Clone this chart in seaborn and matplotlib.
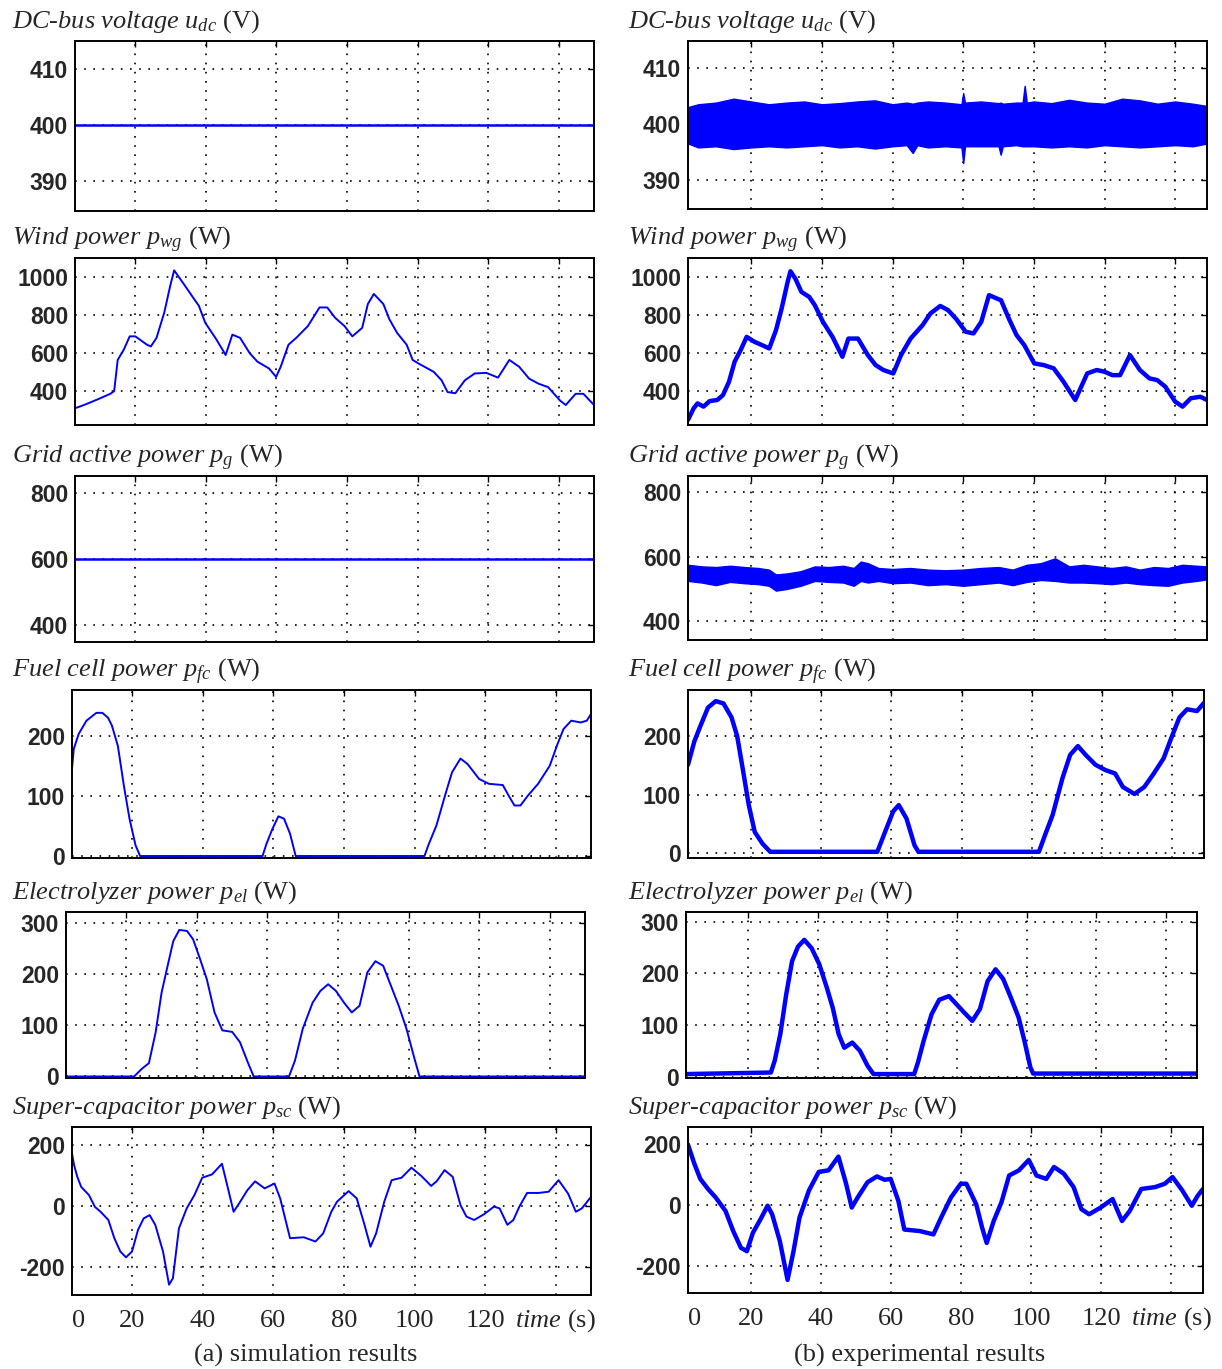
import matplotlib
matplotlib.use("Agg")
import matplotlib.pyplot as plt
import seaborn as sns

# ---------------- data ----------------
# (a) simulation
t_udc_sim = [2.9, 150.0]
udc_sim = [400, 400]

t_pwg_sim = [2.9, 5.7, 9.6, 12.9, 14.0, 15.0, 16.7, 18.4, 20.0, 23.3, 24.4, 26.0, 28.2, 29.9, 31.0,
             33.7, 37.0, 38.0, 39.8, 43.0, 45.6, 47.5, 49.7, 52.4, 54.6, 57.9, 59.9, 61.2, 63.4,
             65.6, 68.9, 72.2, 74.4, 76.6, 79.3, 81.5, 84.3, 85.9, 87.6, 90.3, 92.0, 94.2, 96.9,
             98.6, 100.2, 104.6, 106.8, 108.5, 110.7, 113.4, 116.2, 119.5, 122.8, 126.0, 128.8,
             131.6, 134.3, 137.0, 140.4, 142.0, 144.8, 147.0, 150.0]
pwg_sim = [310, 329, 359, 386, 400, 564, 617, 688, 688, 644, 635, 680, 813, 955, 1035,
           964, 875, 849, 760, 671, 590, 697, 680, 600, 555, 519, 475, 528, 644,
           680, 742, 840, 840, 786, 742, 688, 733, 858, 911, 858, 778, 706, 644,
           564, 546, 501, 457, 395, 389, 457, 493, 496, 471, 564, 528,
           466, 439, 421, 350, 327, 386, 386, 327]

t_pg_sim = [2.9, 150.0]
pg_sim = [600, 600]

t_pfc_sim = [2.9, 3.4, 4.8, 7.0, 9.8, 11.5, 13.1, 14.2, 15.9, 17.6, 19.2, 20.9, 22.2, 56.9, 58.0,
             59.7, 61.4, 63.0, 64.7, 66.3, 102.8, 103.9, 106.2, 108.9, 110.6, 113.0, 115.0, 118.3,
             121.1, 125.0, 126.6, 128.3, 130.0, 132.2, 135.0, 138.3, 140.5, 142.2, 144.4, 147.1,
             148.8, 150.0]
pfc_sim = [145, 178, 203, 225, 238, 238, 230, 217, 183, 117, 62, 18, 0, 0, 20,
           45, 66, 62, 37, 0, 0, 18, 51, 106, 139, 162, 153, 128,
           120, 118, 101, 84, 84, 101, 120, 150, 186, 211, 225, 222,
           225, 236]

t_pel_sim = [2.9, 22.2, 24.4, 26.4, 28.3, 30.0, 31.7, 33.3, 35.0, 37.2, 38.9, 40.6, 42.8, 45.0, 47.2,
             50.0, 52.2, 54.4, 56.1, 66.1, 67.8, 70.0, 72.8, 75.0, 77.2, 79.4, 81.7, 83.9, 86.1,
             88.3, 90.6, 92.8, 95.0, 97.2, 99.4, 101.7, 103.1, 150.0]
pel_sim = [0, 0, 15, 26, 86, 164, 216, 264, 286, 284, 268, 235, 190, 125, 90,
           87, 67, 28, 0, 0, 31, 93, 144, 167, 180, 167, 144, 125, 138,
           203, 225, 216, 177, 138, 93, 34, 0, 0]

t_psc_sim = [2.9, 3.5, 4.4, 5.5, 7.7, 9.4, 11.0, 13.2, 14.9, 16.6, 18.2, 19.9, 21.6, 23.2, 24.9,
             26.5, 28.7, 30.4, 31.5, 33.2, 35.4, 37.6, 39.8, 42.6, 45.4, 47.0, 48.7, 50.3, 52.6,
             54.8, 57.5, 60.3, 61.9, 64.7, 68.6, 71.9, 74.1, 76.4, 78.0, 81.3, 83.6, 85.8, 87.5,
             89.1, 91.4, 93.5, 96.3, 99.1, 101.9, 104.7, 106.3, 108.5, 110.8, 113.0, 114.7, 116.9,
             119.7, 122.5, 124.1, 126.3, 128.0, 129.7, 131.9, 135.2, 138.0, 140.8, 143.5, 145.7,
             147.4, 150.0]
psc_sim = [173, 134, 96, 63, 36, -3, -19, -46, -106, -150, -169, -150, -79, -41, -30,
           -62, -150, -259, -238, -74, -8, 36, 93, 104, 139, 63, -19, 9, 52,
           81, 58, 74, 25, -106, -103, -117, -90, -19, 14, 49, 25, -62, -134,
           -90, 14, 85, 93, 126, 99, 66, 82, 118, 96, 3, -35, -46,
           -27, -2, -8, -62, -46, -2, 43, 43, 47, 85, 41, -19,
           -8, 30]

# (b) experimental
t_udc_exp = [2.1, 5, 10, 15, 20, 25, 30, 35, 40, 45, 50, 55, 60, 64, 65.7, 67, 70, 75, 79.5, 80,
             80.5, 85, 90, 90.6, 91.2, 95, 96.8, 97.4, 98, 100, 105, 110, 115, 120, 125, 130, 135,
             140, 145, 149]
udc_exp_hi = [403.0, 403.5, 403.8, 404.5, 404.0, 403.5, 403.8, 404.0, 403.5, 403.7, 404.0, 404.2,
              403.5, 403.8, 403.6, 403.8, 404.0, 403.8, 403.5, 405.5, 403.8, 404.0, 403.7, 403.8,
              403.6, 403.8, 403.8, 406.8, 403.8, 404.0, 403.7, 404.3, 403.8, 403.6, 404.5, 404.2,
              403.6, 404.0, 403.6, 403.2]
udc_exp_lo = [396.5, 395.8, 396.0, 395.5, 395.8, 396.0, 395.8, 396.0, 396.2, 395.8, 396.0, 395.6,
              396.0, 396.2, 394.8, 396.2, 395.8, 396.0, 395.8, 393.0, 396.0, 396.0, 396.0, 394.5,
              396.0, 396.2, 396.0, 396.0, 396.0, 396.0, 395.8, 396.0, 395.8, 396.2, 396.0, 395.8,
              396.0, 396.2, 396.0, 396.5]

t_pwg_exp = [2.1, 3.7, 4.8, 6.5, 8.2, 10.4, 12.0, 13.7, 15.3, 17.0, 18.7, 20.9, 23.1, 25.1, 27.0,
             28.6, 30.3, 31.1, 32.5, 34.2, 36.4, 38.0, 40.3, 43.0, 45.8, 47.5, 50.2, 53.0, 55.2,
             57.4, 60.2, 62.4, 65.1, 68.5, 70.7, 73.5, 75.7, 77.9, 80.7, 82.9, 85.1, 87.3, 90.7,
             92.9, 95.1, 97.3, 100.1, 102.8, 105.6, 108.4, 111.7, 115.1, 117.8, 120.0, 122.2,
             124.4, 127.2, 130.0, 132.7, 134.9, 137.2, 140.0, 142.1, 144.4, 147.1, 149.0]
pwg_exp = [246, 307, 333, 316, 345, 351, 377, 447, 553, 614, 684, 658, 640, 623, 719,
           833, 974, 1030, 991, 921, 895, 851, 763, 684, 579, 675, 675, 588, 535,
           509, 491, 588, 675, 746, 807, 847, 825, 781, 711, 702, 763, 904, 877,
           781, 693, 640, 544, 535, 518, 447, 351, 491, 509, 500, 482,
           482, 588, 509, 465, 456, 421, 342, 316, 360, 368, 351]

t_pg_exp = [2.1, 6, 10, 14, 18, 22, 25, 27, 30, 34, 38, 42, 46, 49, 51, 53, 56, 60, 65, 70, 75,
            80, 85, 90, 94, 98, 102, 106, 110, 114, 118, 122, 126, 130, 134, 138, 142, 146, 149]
pg_exp_hi = [575, 570, 568, 572, 568, 565, 560, 545, 548, 555, 570, 568, 572, 565, 585, 580, 565,
             562, 565, 560, 558, 560, 565, 568, 560, 575, 580, 595, 570, 575, 570, 565, 570, 560,
             568, 565, 575, 572, 570]
pg_exp_lo = [525, 520, 512, 522, 518, 515, 510, 495, 500, 510, 525, 522, 520, 510, 525, 520, 525,
             518, 520, 512, 515, 510, 515, 520, 512, 522, 528, 525, 520, 520, 518, 515, 520, 515,
             512, 510, 520, 525, 530]

t_pfc_exp = [2.1, 3.9, 5.6, 7.8, 10.0, 12.2, 14.5, 16.1, 17.8, 19.4, 21.1, 23.3, 25.5, 56.0, 58.2,
             60.5, 62.1, 64.3, 66.6, 67.7, 102.0, 103.7, 105.9, 108.7, 110.9, 113.1, 115.3, 118.1,
             120.9, 123.7, 125.9, 129.2, 132.0, 134.7, 137.5, 139.7, 142.0, 144.2, 147.0, 149.0]
pfc_exp = [151, 191, 217, 249, 260, 256, 232, 200, 140, 82, 36, 16, 2, 2, 36,
           71, 82, 59, 13, 2, 2, 30, 65, 128, 168, 183, 168, 151,
           142, 136, 113, 101, 113, 136, 162, 197, 232, 246, 243, 257]

t_pel_exp = [2.1, 26.5, 27.6, 29.2, 30.9, 32.6, 34.3, 36.1, 38.2, 40.4, 42.6, 44.3, 46.0, 47.6, 49.9,
             52.1, 54.3, 56.0, 67.7, 68.8, 70.4, 72.7, 74.9, 77.7, 79.9, 82.1, 84.4, 86.6, 88.8,
             91.1, 93.3, 95.5, 97.7, 99.4, 101.1, 101.9, 149.0]
pel_exp = [5, 8, 31, 82, 159, 224, 252, 265, 249, 218, 172, 133, 82, 56, 66,
           50, 21, 5, 5, 28, 69, 121, 149, 156, 140, 124, 108, 131, 185,
           208, 189, 153, 115, 69, 18, 6, 6]

t_psc_exp = [2.1, 3.9, 5.6, 7.8, 10.0, 12.8, 15.0, 17.2, 18.9, 20.6, 22.8, 24.8, 26.1, 28.3, 30.5,
             32.2, 33.9, 36.6, 39.4, 42.2, 45.0, 47.2, 48.8, 50.5, 53.3, 56.0, 58.2, 59.9, 62.1,
             63.8, 68.2, 72.1, 74.3, 77.1, 79.9, 81.5, 84.3, 86.0, 87.3, 89.3, 91.5, 93.7, 96.5,
             99.3, 101.5, 104.3, 106.5, 109.3, 112.1, 114.3, 116.5, 119.8, 123.2, 125.9, 128.1,
             131.4, 135.3, 138.1, 140.3, 143.1, 145.8, 147.5, 149.0]
psc_exp = [198, 136, 86, 53, 25, -19, -85, -140, -151, -91, -46, -2, -30, -118, -245,
           -151, -41, 48, 109, 114, 159, 70, -8, 25, 75, 94, 83, 86, 14,
           -80, -85, -96, -41, 25, 70, 70, 3, -74, -124, -52, 9, 97, 114,
           148, 97, 86, 125, 103, 59, -13, -30, -8, 20, -52, -19,
           53, 59, 70, 92, 48, -2, 31, 53]

titles = [
    r"$DC$-$bus\ voltage\ u_{dc}$ (V)",
    r"$Wind\ power\ p_{wg}$ (W)",
    r"$Grid\ active\ power\ p_{g}$ (W)",
    r"$Fuel\ cell\ power\ p_{fc}$ (W)",
    r"$Electrolyzer\ power\ p_{el}$ (W)",
    r"$Super$-$capacitor\ power\ p_{sc}$ (W)",
]
yticks = [[390, 400, 410], [400, 600, 800, 1000], [400, 600, 800],
          [0, 100, 200], [0, 100, 200, 300], [-200, 0, 200]]
ylims_sim = [(384.6, 415), (222, 1100), (350, 852), (-3.3, 276), (-3, 321), (-293, 260)]
ylims_exp = [(384.8, 414.8), (219, 1100), (342, 850), (-8.6, 279), (-2.6, 319), (-288, 256)]
xgrid = [20, 40, 60, 80, 100, 120, 140]
xlabels = ["20", "40", "60", "80", "100", "120", r"$time$ (s)"]
captions = ["(a) simulation results", "(b) experimental results"]

# ---------------- style ----------------
sns.set_theme(style="white")
plt.rcParams["font.family"] = ["Liberation Serif", "DejaVu Serif"]
plt.rcParams["mathtext.fontset"] = "custom"
plt.rcParams["mathtext.rm"] = "Liberation Serif"
plt.rcParams["mathtext.it"] = "Liberation Serif:italic"
plt.rcParams["mathtext.bf"] = "Liberation Serif:bold"
plt.rcParams["axes.edgecolor"] = "black"
plt.rcParams["axes.linewidth"] = 1.4

W, H = 1222, 1369
fig = plt.figure(figsize=(W / 100, H / 100), dpi=100)
fig.patch.set_facecolor("white")

# axes boxes in pixels: (x0, x1, ytop, ybottom)
boxes_sim = [(75, 594, 41, 211), (75, 594, 258, 425), (75, 594, 476, 642),
             (72, 591, 690, 858), (66, 585, 912, 1078), (72, 591, 1127, 1295)]
boxes_exp = [(688, 1207, 41, 209), (688, 1207, 258, 425), (688, 1207, 476, 640),
             (688, 1204, 690, 858), (686, 1197, 912, 1078), (688, 1203, 1127, 1293)]

BLUE = "#0000ff"


def make_ax(b, xlim, ylim, yt, bottom_row):
    x0, x1, y0, y1 = b
    ax = fig.add_axes([x0 / W, 1 - y1 / H, (x1 - x0) / W, (y1 - y0) / H])
    ax.set_xlim(*xlim)
    ax.set_ylim(*ylim)
    ax.set_xticks(xgrid)
    ax.set_yticks(yt)
    ax.set_yticklabels([str(v) for v in yt], family="Liberation Sans",
                       fontweight="bold", fontsize=16.5)
    ax.grid(True, which="major", color="black", linestyle=(0, (1, 4.5)), linewidth=1.2)
    ax.tick_params(axis="both", which="major", direction="in", length=4, width=1,
                   top=True, right=True, color="black")
    ax.tick_params(axis="y", pad=5)
    if bottom_row:
        ax.set_xticklabels(xlabels, fontsize=19)
        ax.set_xticks([xlim[0] + 1.8], minor=True)
        ax.set_xticklabels(["0"], minor=True, fontsize=19)
        ax.tick_params(axis="x", which="both", pad=23)
        ax.tick_params(axis="x", which="minor", length=0)
        # align all bottom labels (numbers and "time (s)") on one baseline
        for lbl in ax.get_xticklabels(which="both"):
            lbl.set_verticalalignment("baseline")
    else:
        ax.set_xticklabels([])
    ax.set_xlabel("")
    ax.set_ylabel("")
    for s in ax.spines.values():
        s.set_visible(True)
        s.set_color("black")
    return ax


sim_series = [(t_udc_sim, udc_sim), (t_pwg_sim, pwg_sim), (t_pg_sim, pg_sim),
              (t_pfc_sim, pfc_sim), (t_pel_sim, pel_sim), (t_psc_sim, psc_sim)]

for i in range(6):
    # left column: simulation
    ax = make_ax(boxes_sim[i], (2.9, 150.0), ylims_sim[i], yticks[i], i == 5)
    tt, vv = sim_series[i]
    lw = 1.8 if i in (0, 2) else 1.4
    sns.lineplot(x=tt, y=vv, ax=ax, color=BLUE, linewidth=lw, estimator=None,
                 sort=False, legend=False)
    ax.set_xlabel("")
    ax.set_ylabel("")
    fig.text(12 / W, 1 - (boxes_sim[i][2] - 13) / H, titles[i], fontsize=19,
             ha="left", va="baseline")

    # right column: experiment
    ax = make_ax(boxes_exp[i], (2.1, 149.0), ylims_exp[i], yticks[i], i == 5)
    if i == 0:
        ax.fill_between(t_udc_exp, udc_exp_lo, udc_exp_hi, color=BLUE, linewidth=1.0,
                        edgecolor=BLUE)
    elif i == 2:
        ax.fill_between(t_pg_exp, pg_exp_lo, pg_exp_hi, color=BLUE, linewidth=1.0,
                        edgecolor=BLUE)
    else:
        tt, vv = {1: (t_pwg_exp, pwg_exp), 3: (t_pfc_exp, pfc_exp),
                  4: (t_pel_exp, pel_exp), 5: (t_psc_exp, psc_exp)}[i]
        sns.lineplot(x=tt, y=vv, ax=ax, color=BLUE, linewidth=3.2, estimator=None,
                     sort=False, legend=False)
    ax.set_xlabel("")
    ax.set_ylabel("")
    fig.text(628 / W, 1 - (boxes_exp[i][2] - 13) / H, titles[i], fontsize=19,
             ha="left", va="baseline")

fig.text(306 / W, 1 - 1362 / H, captions[0], fontsize=19, ha="center", va="baseline")
fig.text(920 / W, 1 - 1362 / H, captions[1], fontsize=19, ha="center", va="baseline")

fig.savefig("out.png", dpi=100, facecolor="white")
